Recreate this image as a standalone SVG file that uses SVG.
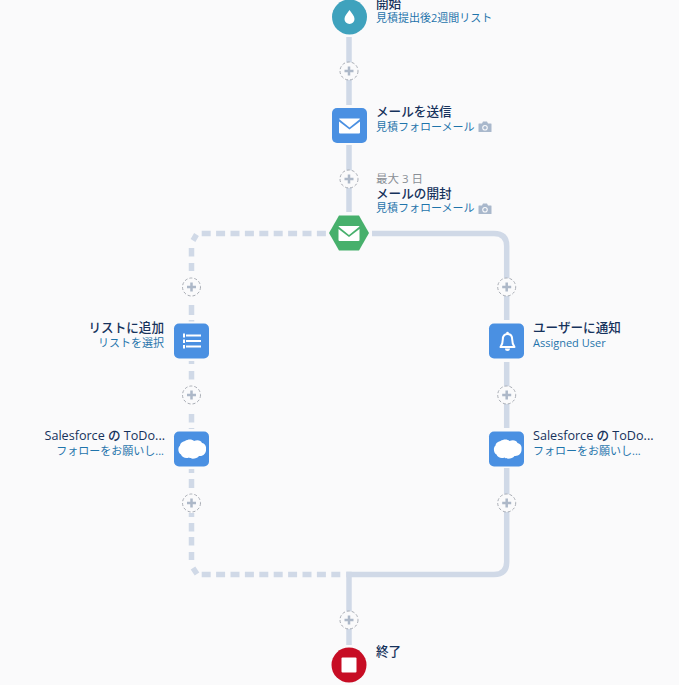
<svg xmlns="http://www.w3.org/2000/svg" width="679" height="685" viewBox="0 0 679 685">
<style>
text{font-family:"Open Sans","Noto Sans CJK JP","Noto Sans",sans-serif}
.t{font-size:12.6px;font-weight:500;fill:#16325c}
.s{font-size:11px;fill:#1f74ab}
.g{font-size:11.5px;fill:#8a8f96}
.e{text-anchor:end}
.c{fill:none;stroke:#d0d9e7;stroke-width:5.500}
.b{fill:#4a90e2}
.w{fill:#fff}
.p{fill:#fafafb;stroke:#a9adb5;stroke-width:1;stroke-dasharray:3 2}
.pl{stroke:#adb8c8;stroke-width:2.500;fill:none}
.cam{fill:#a9b8cc}
</style>
<defs>
<g id="plus"><circle r="9" class="p"/><path d="M-4.500 0H4.500M0-4.500V4.500" class="pl"/></g>
<g id="mail"><path class="w" d="M-9.800-7.500H9.800Q10.500-7.500 10.500-7L0 1.500-10.500-7Q-10.500-7.500-9.800-7.500Z"/><path class="w" d="M-10.500-4.500 0 3.500 10.500-4.500V6.500Q10.500 7.500 9.500 7.500H-9.500Q-10.500 7.500-10.500 6.500Z"/></g>
<g id="cloud"><path class="w" d="M-7-8.500C-4-10.500 0-10.500 2-8.500C5-10 9-9.500 10-6.500C13-6 14.500-3 14-0.500C14.500 4 11 7 7 6.500C5 9.500-1 10-3 8C-6 9.500-10 8-11 5C-14 3.500-14.500-2-12-4C-12-6-10-8-7-8.500Z"/></g>
<g id="cam"><path class="cam" d="M-6-3.500H-3L-2-5.500H2L3-3.500H6Q6.500-3.500 6.500-3V4.500Q6.500 5 6 5H-6Q-6.500 5-6.500 4.500V-3Q-6.500-3.500-6-3.500Z"/><circle cy="0.700" r="2.800" fill="#fafafb"/><circle cy="0.700" r="1.700" class="cam"/></g>
</defs>
<rect width="679" height="685" fill="#fafafb"/>
<g id="connectors">
<path class="c" d="M349 37V105M349 145V212"/>
<path class="c" d="M372 233.500H494Q506.700 233.500 506.700 246V320M506.700 362V428M506.700 468V562Q506.700 574.500 494 574.500H346.300"/>
<path class="c" d="M325.900 233.500H316.900M311.500 233.500H302.500M297.100 233.500H288.100M282.700 233.500H273.700M268.300 233.500H259.300M253.900 233.500H244.900M239.500 233.500H230.500M225.100 233.500H216.100M210.700 233.500H201.700M196.500 234.500L193 240.500M191.500 248V256.500M191.500 263V271M191.500 305V315M191.500 320V321.500M191.500 361V364M191.500 371V379.500M191.500 414V422.500M191.500 428V429M191.500 469V473M191.500 479V488M191.500 513V517M191.500 523V531.500M191.500 537V545.500M191.500 552V560M193 568L197 574M201.700 574.500H210.700M216.100 574.500H225.100M230.500 574.500H239.500M244.900 574.500H253.900M259.300 574.500H268.300M273.700 574.500H282.700M288.100 574.500H297.100M302.500 574.500H311.500M316.900 574.500H325.900M331.300 574.500H340.300"/>
<path class="c" d="M349 571.700V645"/>
</g>
<g id="start"><circle cx="349.500" cy="17" r="17.500" fill="#3fa2bd"/><path class="w" d="M349.500 10C347 13.500 344.500 16 344.500 19A5 5 0 0 0 354.500 19C354.500 16 352 13.500 349.500 10Z"/>
<text class="t" x="376" y="8">開始</text><text class="s" x="376" y="22">見積提出後2週間リスト</text></g>
<g id="add1"><use href="#plus" x="349" y="71"/></g>
<g id="send-mail"><rect class="b" x="332" y="108" width="35" height="35" rx="5"/><use href="#mail" x="349.500" y="126"/>
<text class="t" x="376" y="116">メールを送信</text><text class="s" x="376" y="131">見積フォローメール</text><use href="#cam" x="485" y="127"/></g>
<g id="add2"><use href="#plus" x="349" y="179"/></g>
<g id="open-mail"><text class="g" x="376" y="183">最大 3 日</text><text class="t" x="376" y="198">メールの開封</text><text class="s" x="376" y="212">見積フォローメール</text><use href="#cam" x="485" y="209"/>
<path fill="#47b06c" d="M339 215.500H359L369 233 359 250.500H339L329 233Z"/><use href="#mail" x="349" y="233.500"/></g>
<g id="add3"><use href="#plus" x="191.500" y="287"/></g>
<g id="add4"><use href="#plus" x="506.700" y="287"/></g>
<g id="add-list"><text class="t e" x="164" y="332">リストに追加</text><text class="s e" x="164" y="347">リストを選択</text>
<rect class="b" x="174" y="323.500" width="35" height="35" rx="5"/><path d="M186 335.500H201M186 341H201M186 346.500H201" stroke="#fff" stroke-width="2.200"/><path d="M183 333.500H185V337.500H183ZM183 339.500H185V343H183ZM183 345H185V348.500H183Z" class="w"/></g>
<g id="notify"><rect class="b" x="489" y="323.500" width="35" height="35" rx="5"/><path fill="none" stroke="#fff" stroke-width="2" stroke-linejoin="round" d="M507.500 334C504 334 502.800 336.500 502.800 339.500C502.800 343 502 345 500.500 347H514.500C513 345 512.200 343 512.200 339.500C512.200 336.500 511 334 507.500 334Z"/><path class="w" d="M505 348.500A2.500 2.500 0 0 0 510 348.500Z"/><circle class="w" cx="507.500" cy="333" r="1.300"/>
<text class="t" x="533" y="332">ユーザーに通知</text><text class="s" x="533" y="347">Assigned User</text></g>
<g id="add5"><use href="#plus" x="191.500" y="395"/></g>
<g id="add6"><use href="#plus" x="506.700" y="395"/></g>
<g id="todo-left"><text class="t e" x="165" y="440">Salesforce の ToDo...</text><text class="s e" x="164" y="455">フォローをお願いし...</text>
<rect class="b" x="174" y="431.500" width="35" height="35" rx="5"/><use href="#cloud" x="192" y="449.500"/></g>
<g id="todo-right"><rect class="b" x="489" y="431.500" width="35" height="35" rx="5"/><use href="#cloud" x="507.500" y="449.500"/>
<text class="t" x="533" y="440">Salesforce の ToDo...</text><text class="s" x="533" y="455">フォローをお願いし...</text></g>
<g id="add7"><use href="#plus" x="191.500" y="503"/></g>
<g id="add8"><use href="#plus" x="506.700" y="503"/></g>
<g id="add9"><use href="#plus" x="349" y="620"/></g>
<g id="end"><circle cx="349" cy="665" r="17.500" fill="#c70d24"/><rect class="w" x="341.500" y="657.500" width="15" height="15" rx="1"/><text class="t" x="376" y="656">終了</text></g>
</svg>
